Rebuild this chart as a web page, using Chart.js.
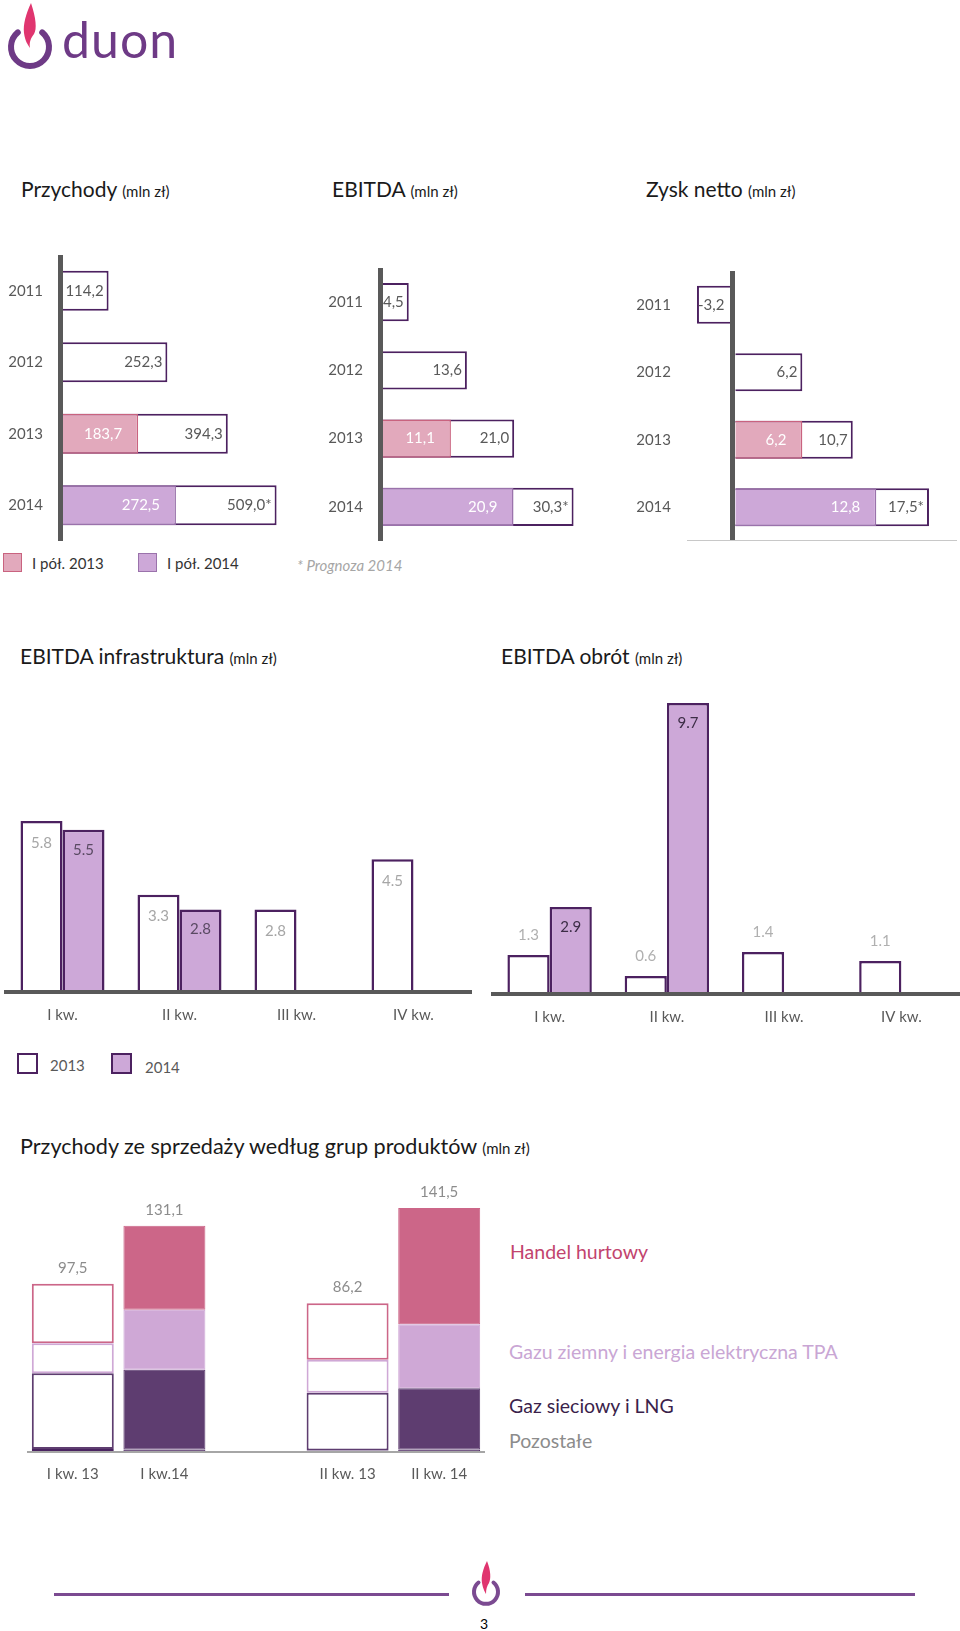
<!DOCTYPE html>
<html lang="pl">
<head>
<meta charset="utf-8">
<title>Duon - wyniki finansowe</title>
<script src="https://cdn.jsdelivr.net/npm/chart.js@4.4.0/dist/chart.umd.min.js"></script>
<style>
  html, body { margin: 0; padding: 0; background: #fff; }
  body { font-family: Lato, sans-serif; }
  #page { position: relative; width: 960px; height: 1631px; overflow: hidden; }
  .abs { position: absolute; white-space: nowrap; }
  canvas { position: absolute; }
  .title { font-size: 21px; line-height: 26px; color: #1a1a1a; }
  .title small { font-size: 15px; }
  .leg { font-size: 15px; line-height: 20px; color: #333; }
  .box { position: absolute; box-sizing: border-box; }
  .prod { font-size: 19.5px; line-height: 24px; }
</style>
</head>
<body>
<div id="page">

  <!-- logo -->
  <svg class="abs" style="left:0;top:0" width="200" height="80">
    <path d="M42.2,32.4 A19,19 0 1 1 17.8,32.4" fill="none" stroke="#6e3a86" stroke-width="6" stroke-linecap="round"/>
    <path d="M31,3 C26,14 23,24 24,33 C25,41 28,45 30,48 C29,42 31,38 34,34 C37,29 36,18 31,3 Z" fill="#e0356f"/>
    <text x="62" y="58" font-family="Lato" font-size="50" fill="#6e3a86" letter-spacing="1">duon</text>
  </svg>

  <!-- top row titles -->
  <div class="abs title" style="left:21px;top:176px">Przychody <small>(mln zł)</small></div>
  <div class="abs title" style="left:332px;top:176px">EBITDA <small>(mln zł)</small></div>
  <div class="abs title" style="left:646px;top:176px">Zysk netto <small>(mln zł)</small></div>

  <canvas id="revenueChart" width="300" height="286" style="left:0;top:255px"></canvas>
  <canvas id="ebitdaChart" width="290" height="273" style="left:320px;top:268px"></canvas>
  <canvas id="profitChart" width="329" height="270" style="left:628px;top:271px"></canvas>

  <!-- legend for top row -->
  <div class="box" style="left:3px;top:553px;width:19px;height:19px;background:#e2a9bc;border:1.5px solid #c9637f"></div>
  <div class="abs leg" style="left:32px;top:553px">I pół. 2013</div>
  <div class="box" style="left:138px;top:553px;width:19px;height:19px;background:#cda8d8;border:1.5px solid #9a72ab"></div>
  <div class="abs leg" style="left:167px;top:553px">I pół. 2014</div>
  <div class="abs leg" style="left:297px;top:555px;color:#a6a6a6;font-style:italic">* Prognoza 2014</div>

  <!-- quarterly EBITDA -->
  <div class="abs title" style="left:20px;top:643px">EBITDA infrastruktura <small>(mln zł)</small></div>
  <div class="abs title" style="left:501px;top:643px">EBITDA obrót <small>(mln zł)</small></div>

  <canvas id="infraChart" width="468" height="332" style="left:4px;top:692px"></canvas>
  <canvas id="tradeChart" width="469" height="332" style="left:491px;top:694px"></canvas>

  <div class="box" style="left:17px;top:1053px;width:21px;height:21px;background:#fff;border:2.5px solid #4c2160"></div>
  <div class="abs leg" style="left:50px;top:1055px;color:#595959">2013</div>
  <div class="box" style="left:111px;top:1053px;width:21px;height:21px;background:#cda8d8;border:2.5px solid #4c2160"></div>
  <div class="abs leg" style="left:145px;top:1057px;color:#595959">2014</div>

  <!-- sales by product group -->
  <div class="abs title" style="left:20px;top:1133px;font-size:21.6px">Przychody ze sprzedaży według grup produktów <small>(mln zł)</small></div>
  <canvas id="productChart" width="458" height="307" style="left:27px;top:1176px"></canvas>

  <div class="abs prod" style="left:510px;top:1240px;color:#c2446e">Handel hurtowy</div>
  <div class="abs prod" style="left:509px;top:1340px;color:#c9a6d4">Gazu ziemny i energia elektryczna TPA</div>
  <div class="abs prod" style="left:509px;top:1394px;color:#3b1f4b">Gaz sieciowy i LNG</div>
  <div class="abs prod" style="left:509px;top:1429px;color:#8c8c8c">Pozostałe</div>

  <!-- footer -->
  <div class="abs" style="left:54px;top:1593px;width:395px;height:3px;background:#7b4a91"></div>
  <div class="abs" style="left:525px;top:1593px;width:390px;height:3px;background:#7b4a91"></div>
  <svg class="abs" style="left:466px;top:1558px" width="40" height="54">
    <path d="M27.5,24.5 A12,12 0 1 1 12.5,24.5" fill="none" stroke="#7b4a91" stroke-width="4" stroke-linecap="round"/>
    <path d="M21,3 C17,11 15,18 16,25 C17,31 19,34 20,36 C20,31 21,28 23,25 C25,21 25,13 21,3 Z" fill="#e0356f"/>
  </svg>
  <div class="abs" style="left:480px;top:1615px;font-size:14px;line-height:18px;color:#000">3</div>
</div>

<script>
// ---- data ----
const years = ['2011', '2012', '2013', '2014'];
const revenueFull = [114.2, 252.3, 394.3, 509.0];
const revenueHalf = [null, null, 183.7, 272.5];
const ebitdaFull = [4.5, 13.6, 21.0, 30.3];
const ebitdaHalf = [null, null, 11.1, 20.9];
const profitFull = [-3.2, 6.2, 10.7, 17.5];
const profitHalf = [null, null, 6.2, 12.8];
const forecastMark = ['', '', '', '*'];

const quarters = ['I kw.', 'II kw.', 'III kw.', 'IV kw.'];
const infra2013 = [5.8, 3.3, 2.8, 4.5];
const infra2014 = [5.5, 2.8, null, null];
const trade2013 = [1.3, 0.6, 1.4, 1.1];
const trade2014 = [2.9, 9.7, null, null];

const productPeriods = ['I kw. 13', 'I kw.14', '', 'II kw. 13', 'II kw. 14'];
const otherSales = [1.7, 1.5, null, 0.8, 1.5];
const gridGasLng = [44.0, 46.2, null, 33.6, 35.4];
const tpaSales = [17.4, 34.8, null, 19.1, 37.1];
const wholesale = [34.4, 48.6, null, 32.7, 67.5];

// ---- colours ----
const DARK = '#4c2160';
const AXIS = '#595959';
const PINK_FILL = '#e2a9bc', PINK_LINE = '#c9637f';
const LILAC_FILL = '#cda8d8', LILAC_LINE = '#9a72ab';

Chart.defaults.font.family = 'Lato, sans-serif';
Chart.defaults.font.size = 15;
Chart.defaults.color = AXIS;
Chart.defaults.animation = false;
Chart.defaults.plugins.legend.display = false;
Chart.defaults.plugins.tooltip.enabled = false;

function comma(v) {
    return v.toFixed(1).replace('.', ',');
}

// value labels at the end of horizontal bars
const hbarValueLabels = {
    id: 'hbarValueLabels',
    afterDatasetsDraw(chart) {
        const ctx = chart.ctx;
        ctx.save();
        ctx.font = '15px Lato';
        ctx.textBaseline = 'middle';
        chart.data.datasets.forEach((ds, di) => {
            chart.getDatasetMeta(di).data.forEach((bar, i) => {
                const v = ds.data[i];
                if (v === null || v === undefined) return;
                const text = comma(v) + (ds.marks ? ds.marks[i] : '');
                ctx.fillStyle = ds.labelColor;
                if (v < 0) {
                    ctx.textAlign = 'left';
                    ctx.fillText(text, bar.x + 1, bar.y);
                } else {
                    ctx.textAlign = 'right';
                    ctx.fillText(text, bar.x - ds.labelInset, bar.y);
                }
            });
        });
        ctx.restore();
    }
};

// value labels for the quarterly column charts
const vbarValueLabels = {
    id: 'vbarValueLabels',
    afterDatasetsDraw(chart) {
        const ctx = chart.ctx;
        ctx.save();
        ctx.font = '15px Lato';
        ctx.textBaseline = 'middle';
        ctx.textAlign = 'center';
        chart.data.datasets.forEach((ds, di) => {
            chart.getDatasetMeta(di).data.forEach((bar, i) => {
                const v = ds.data[i];
                if (v === null || v === undefined) return;
                const y = ds.labelAbove ? bar.y - ds.labelOffset : bar.y + ds.labelOffset;
                ctx.fillStyle = ds.labelColor;
                ctx.fillText(v.toFixed(1), bar.x, y);
            });
        });
        ctx.restore();
    }
};

// totals above stacked columns
const stackTotals = {
    id: 'stackTotals',
    afterDatasetsDraw(chart) {
        const ctx = chart.ctx;
        const yScale = chart.scales.y;
        const xScale = chart.scales.x;
        ctx.save();
        ctx.font = '15px Lato';
        ctx.textBaseline = 'middle';
        ctx.textAlign = 'center';
        ctx.fillStyle = '#8c8c8c';
        chart.data.labels.forEach((lab, i) => {
            let total = 0, any = false;
            chart.data.datasets.forEach(ds => {
                if (ds.data[i] !== null) { total += ds.data[i]; any = true; }
            });
            if (!any) return;
            ctx.fillText(comma(total), xScale.getPixelForValue(i), yScale.getPixelForValue(total) - 16);
        });
        ctx.restore();
    }
};

function zeroLine(c) {
    return c.tick && c.tick.value === 0;
}

function buildYearChart(id, full, half, min, max, bottomLine) {
    new Chart(document.getElementById(id), {
        type: 'bar',
        data: {
            labels: years,
            datasets: [
                {
                    label: 'I półrocze',
                    data: half,
                    grouped: false,
                    backgroundColor: ['#fff', '#fff', PINK_FILL, LILAC_FILL],
                    borderColor: ['#fff', '#fff', PINK_LINE, LILAC_LINE],
                    borderWidth: 1.5,
                    labelColor: '#ffffff',
                    labelInset: 16
                },
                {
                    label: 'Rok',
                    data: full,
                    grouped: false,
                    backgroundColor: '#ffffff',
                    borderColor: DARK,
                    borderWidth: 2,
                    marks: forecastMark,
                    labelColor: AXIS,
                    labelInset: 5
                }
            ]
        },
        options: {
            indexAxis: 'y',
            responsive: false,
            layout: { padding: 0 },
            datasets: { bar: { categoryPercentage: 1, barPercentage: 0.56 } },
            scales: {
                x: {
                    min: min,
                    max: max,
                    ticks: { display: false, stepSize: 1 },
                    grid: {
                        drawTicks: false,
                        z: 1,
                        color: c => zeroLine(c) ? AXIS : 'rgba(0,0,0,0)',
                        lineWidth: c => zeroLine(c) ? 5 : 0
                    },
                    border: { display: bottomLine, color: '#c8c8c8', width: 1.5, z: 1 }
                },
                y: {
                    ticks: { padding: 17, color: AXIS },
                    grid: { display: false, drawTicks: false },
                    border: { display: false },
                    afterFit: s => {
                        s.width = 60;
                        s.paddingTop = 0;
                        s.paddingBottom = 0;
                    }
                }
            }
        },
        plugins: [hbarValueLabels]
    });
}

buildYearChart('revenueChart', revenueFull, revenueHalf, 0, 564, false);
buildYearChart('ebitdaChart', ebitdaFull, ebitdaHalf, 0, 36, false);
buildYearChart('profitChart', profitFull, profitHalf, -4, 20, true);

function buildQuarterChart(id, d2013, d2014, yMax, catPct, above2013, color2013, color2014) {
    new Chart(document.getElementById(id), {
        type: 'bar',
        data: {
            labels: quarters,
            datasets: [
                {
                    label: '2013',
                    data: d2013,
                    backgroundColor: '#ffffff',
                    borderColor: DARK,
                    borderWidth: 2.5,
                    labelAbove: above2013,
                    labelOffset: above2013 ? 20 : 22,
                    labelColor: color2013
                },
                {
                    label: '2014',
                    data: d2014,
                    backgroundColor: LILAC_FILL,
                    borderColor: DARK,
                    borderWidth: 2.5,
                    labelAbove: false,
                    labelOffset: 20,
                    labelColor: color2014
                }
            ]
        },
        options: {
            responsive: false,
            layout: { padding: 0 },
            datasets: { bar: { categoryPercentage: catPct, barPercentage: 1 } },
            scales: {
                x: {
                    grid: { display: false, drawTicks: false },
                    border: { color: AXIS, width: 4, z: 1 },
                    ticks: { padding: 14, color: AXIS },
                    afterFit: s => { s.height = 32; }
                },
                y: { display: false, min: 0, max: yMax }
            }
        },
        plugins: [vbarValueLabels]
    });
}

buildQuarterChart('infraChart', infra2013, infra2014, 10.17, 0.718, false, '#a6a6a6', '#5a4a63');
buildQuarterChart('tradeChart', trade2013, trade2014, 10.0, 0.72, true, '#b0b0b0', '#3c2d46');

// 2014 columns are filled, 2013 columns are outlined only
const filled = [false, true, false, false, true];
function segment(label, data, color) {
    return {
        label: label,
        data: data,
        backgroundColor: filled.map(f => f ? color : '#ffffff'),
        borderColor: color,
        borderWidth: filled.map(f => f ? 1 : 2),
        borderSkipped: false
    };
}

new Chart(document.getElementById('productChart'), {
    type: 'bar',
    data: {
        labels: productPeriods,
        datasets: [
            segment('Pozostałe', otherSales, '#4a2461'),
            segment('Gaz sieciowy i LNG', gridGasLng, '#5e3d70'),
            segment('Gazu ziemny i energia elektryczna TPA', tpaSales, '#cfa8d6'),
            segment('Handel hurtowy', wholesale, '#cc6688')
        ]
    },
    options: {
        responsive: false,
        layout: { padding: 0 },
        datasets: { bar: { categoryPercentage: 1, barPercentage: 0.895 } },
        scales: {
            x: {
                stacked: true,
                grid: { display: false, drawTicks: false },
                border: { color: '#a6a6a6', width: 2, z: 1 },
                ticks: { padding: 13, color: AXIS },
                afterFit: s => { s.height = 31; }
            },
            y: { stacked: true, display: false, min: 0, max: 160 }
        }
    },
    plugins: [stackTotals]
});
</script>
</body>
</html>
